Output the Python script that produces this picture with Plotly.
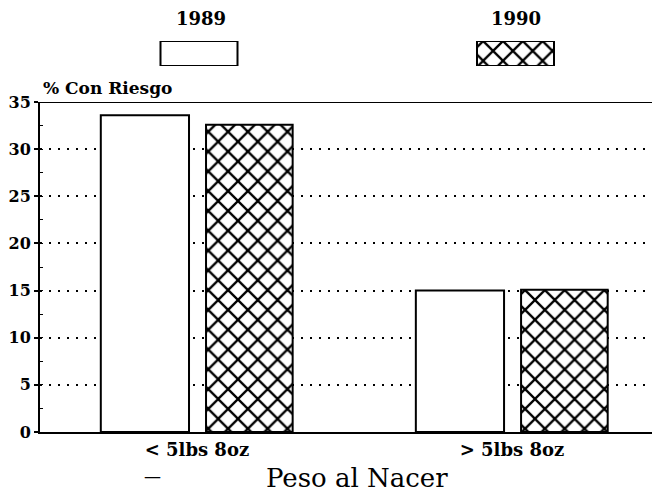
import plotly.graph_objects as go

categories = ["< 5lbs 8oz", "> 5lbs 8oz"]
years = ["1989", "1990"]
values_1989 = [33.6, 15.0]
values_1990 = [32.6, 15.1]
y_ticks = [0, 5, 10, 15, 20, 25, 30, 35]

# page body has an 8px margin; the figure is sized to the visible region
OFF = 8
W, H = 660 - OFF, 495 - OFF
FONT = "DejaVu Serif"
HATCH = dict(shape="x", fgcolor="black", bgcolor="white", size=14, solidity=0.3)


def px(x):
    return (x - OFF) / W


def py(y):
    return (H - (y - OFF)) / H


fig = go.Figure()
xpos = list(range(len(categories)))

fig.add_trace(go.Bar(
    x=xpos, y=values_1989, name=years[0], width=0.28, offset=-0.305,
    marker=dict(color="white", line=dict(color="black", width=2)),
    showlegend=False,
))
fig.add_trace(go.Bar(
    x=xpos, y=values_1990, name=years[1], width=0.275, offset=0.029,
    marker=dict(color="white", line=dict(color="black", width=2), pattern=HATCH),
    showlegend=False,
))

# legend swatches on an auxiliary axis (screen-pixel frame)
fig.add_trace(go.Bar(
    x=[199], y=[1], width=[77], base=0, xaxis="x2", yaxis="y2",
    marker=dict(color="white", line=dict(color="black", width=2)),
    showlegend=False, hoverinfo="skip",
))
fig.add_trace(go.Bar(
    x=[515.5], y=[1], width=[77], base=0, xaxis="x2", yaxis="y2",
    marker=dict(color="white", line=dict(color="black", width=2), pattern=HATCH),
    showlegend=False, hoverinfo="skip",
))

fig.update_layout(
    template="none",
    width=W, height=H, autosize=False,
    margin=dict(l=0, r=0, t=0, b=0, pad=0, autoexpand=False),
    paper_bgcolor="white", plot_bgcolor="white",
    font=dict(family=FONT, color="black"),
    barmode="overlay",
    xaxis=dict(
        domain=[px(40), 1], range=[-0.498, 1.47], automargin=False,
        tickmode="array", tickvals=xpos, ticktext=categories,
        tickfont=dict(size=18, family=FONT, weight="bold"), ticks="",
        showgrid=False, zeroline=False,
        showline=True, linecolor="black", linewidth=2,
    ),
    yaxis=dict(
        domain=[py(432), py(102)], range=[0, 35], automargin=False,
        tickmode="array", tickvals=y_ticks,
        tickfont=dict(size=16, family=FONT, weight="bold"),
        ticks="outside", ticklen=4, tickwidth=2, tickcolor="black",
        showline=True, linecolor="black", linewidth=2,
        showgrid=True, gridcolor="black", gridwidth=2, griddash="2px,7px",
        zeroline=False,
        minor=dict(dtick=2.5, ticks="inside", ticklen=3, tickcolor="black",
                   tickwidth=1, showgrid=False),
    ),
    xaxis2=dict(domain=[0, 1], range=[OFF, 660], visible=False, fixedrange=True,
                automargin=False),
    yaxis2=dict(domain=[py(66), py(41)], range=[0, 1],
                visible=False, fixedrange=True, anchor="x2", automargin=False),
    shapes=[dict(type="line", xref="x domain", yref="y", x0=0, x1=1, y0=35, y1=35,
                 line=dict(color="black", width=2))],
    annotations=[
        dict(text="<b>1989</b>", x=px(201), y=py(19), xref="paper", yref="paper",
             xanchor="center", yanchor="middle", showarrow=False,
             font=dict(size=18, family=FONT)),
        dict(text="<b>1990</b>", x=px(516), y=py(19), xref="paper", yref="paper",
             xanchor="center", yanchor="middle", showarrow=False,
             font=dict(size=18, family=FONT)),
        dict(text="<b>% Con Riesgo</b>", x=px(41), y=py(88), xref="paper", yref="paper",
             xanchor="left", yanchor="middle", showarrow=False,
             font=dict(size=17, family=FONT)),
        dict(text="—", x=px(152), y=py(476), xref="paper", yref="paper",
             xanchor="center", yanchor="middle", showarrow=False,
             font=dict(size=17, family=FONT)),
        dict(text="Peso al Nacer", x=px(357), y=py(478), xref="paper", yref="paper",
             xanchor="center", yanchor="middle", showarrow=False,
             font=dict(size=26, family=FONT)),
    ],
)

fig.write_html("out.html")
